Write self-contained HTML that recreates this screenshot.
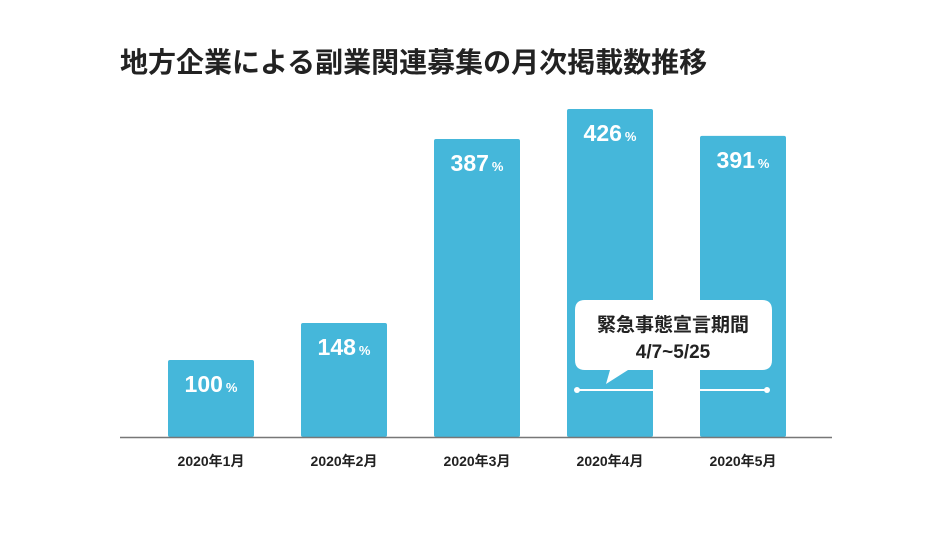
<!DOCTYPE html>
<html><head><meta charset="utf-8"><style>
body{margin:0;background:#fff;width:938px;height:540px;overflow:hidden;font-family:"Liberation Sans","Noto Sans CJK JP",sans-serif}
</style></head><body>
<svg id="chart" width="938" height="540" xmlns="http://www.w3.org/2000/svg">
<text x="120" y="72" font-size="28" font-weight="bold" fill="#222" font-family="Liberation Sans, Noto Sans CJK JP, sans-serif">地方企業による副業関連募集の月次掲載数推移</text>
<g id="bars"></g>
<line x1="120" y1="437.5" x2="832" y2="437.5" stroke="#777" stroke-width="1.5"/>
<g id="cats"></g>
<g>
<path d="M585 300 H762 Q772 300 772 310 V360 Q772 370 762 370 H628 L606 384 L610 370 H585 Q575 370 575 360 V310 Q575 300 585 300 Z" fill="#fff"/>
<text x="673" y="331" text-anchor="middle" font-size="19" font-weight="bold" fill="#222" font-family="Liberation Sans, Noto Sans CJK JP, sans-serif">緊急事態宣言期間</text>
<text x="673" y="358" text-anchor="middle" font-size="19" font-weight="bold" fill="#222" font-family="Liberation Sans, Noto Sans CJK JP, sans-serif">4/7~5/25</text>
</g>
<g>
<line x1="577" y1="390" x2="767" y2="390" stroke="#fff" stroke-width="2"/>
<circle cx="577" cy="390" r="3" fill="#fff"/><circle cx="767" cy="390" r="3" fill="#fff"/>
</g>
</svg>
<script>
const categories=["2020年1月","2020年2月","2020年3月","2020年4月","2020年5月"];
const values=[100,148,387,426,391];
const NS="http://www.w3.org/2000/svg";
const baseY=437, x0=168, step=133, bw=86;
function xScale(i){return x0+i*step;}
function yScale(v){return baseY-v*0.77;}
const bars=document.getElementById('bars'), cats=document.getElementById('cats');
categories.forEach((c,i)=>{
  const x=xScale(i), y=yScale(values[i]);
  const r=document.createElementNS(NS,'rect');
  
  
  r.setAttribute('x',x);r.setAttribute('y',y);r.setAttribute('width',bw);r.setAttribute('height',baseY-y);
  r.setAttribute('rx',2);r.setAttribute('fill','#45b7da');
  bars.appendChild(r);
  const t=document.createElementNS(NS,'text');
  
  
  t.setAttribute('x',x+bw/2);t.setAttribute('y',y+32);t.setAttribute('text-anchor','middle');
  t.setAttribute('fill','#fff');t.setAttribute('font-weight','bold');t.setAttribute('font-size','23');
  t.innerHTML=values[i]+'<tspan font-size="13" dx="3">%</tspan>';
  bars.appendChild(t);
  const l=document.createElementNS(NS,'text');
  
  
  l.setAttribute('x',x+bw/2);l.setAttribute('y',466);l.setAttribute('text-anchor','middle');
  l.setAttribute('fill','#222');l.setAttribute('font-weight','bold');l.setAttribute('font-size','14');
  l.setAttribute('font-family','Liberation Sans, Noto Sans CJK JP, sans-serif');
  l.textContent=c;
  cats.appendChild(l);
});
</script>
</body></html>
